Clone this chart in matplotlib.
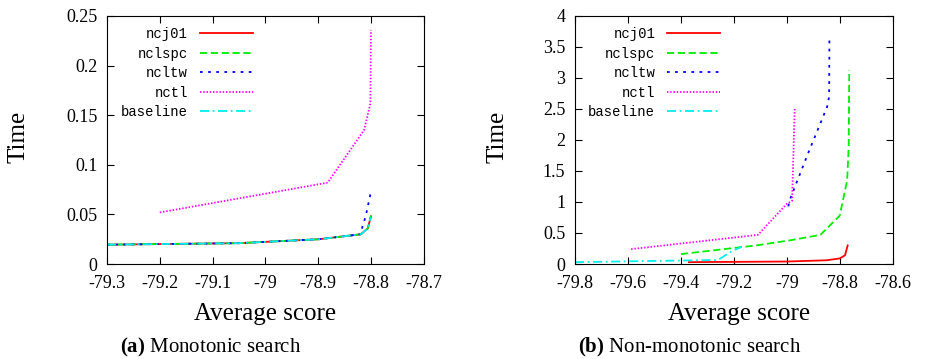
import numpy as np
import matplotlib
matplotlib.use("Agg")
import matplotlib.pyplot as plt
from matplotlib.ticker import FormatStrFormatter

plt.rcParams["mathtext.fontset"] = "custom"
plt.rcParams["mathtext.rm"] = "Liberation Serif"
plt.rcParams["mathtext.bf"] = "Liberation Serif:bold"

# (a) monotonic search
a_ncj01_x = [-79.3, -79.05, -78.898, -78.819, -78.806, -78.8]
a_ncj01_y = [0.0195, 0.021, 0.025, 0.030, 0.036, 0.048]
a_nclspc_x = [-79.3, -79.05, -78.898, -78.819, -78.806, -78.8]
a_nclspc_y = [0.0195, 0.021, 0.025, 0.030, 0.036, 0.049]
a_ncltw_x = [-79.3, -79.05, -78.898, -78.819, -78.816, -78.81, -78.8]
a_ncltw_y = [0.0195, 0.021, 0.025, 0.030, 0.038, 0.048, 0.073]
a_nctl_x = [-79.2, -78.882, -78.813, -78.801, -78.8]
a_nctl_y = [0.052, 0.082, 0.135, 0.162, 0.236]
a_base_x = [-79.3, -79.05, -78.898, -78.819, -78.806, -78.8]
a_base_y = [0.0195, 0.021, 0.025, 0.030, 0.036, 0.047]

# (b) non-monotonic search
b_ncj01_x = [-79.37, -79.0, -78.85, -78.8, -78.78, -78.77]
b_ncj01_y = [0.03, 0.04, 0.06, 0.09, 0.14, 0.30]
b_nclspc_x = [-79.4, -79.115, -78.99, -78.873, -78.8, -78.772, -78.766, -78.764]
b_nclspc_y = [0.16, 0.30, 0.38, 0.47, 0.78, 1.35, 1.9, 3.13]
b_ncltw_x = [-78.994, -78.99, -78.92, -78.848, -78.84, -78.839]
b_ncltw_y = [0.93, 1.02, 1.78, 2.53, 2.70, 3.61]
b_nctl_x = [-79.588, -79.109, -79.0, -78.98, -78.97]
b_nctl_y = [0.24, 0.47, 0.97, 1.02, 2.51]
b_base_x = [-79.8, -79.26, -79.21, -79.17]
b_base_y = [0.03, 0.065, 0.2, 0.28]

names = ["ncj01", "nclspc", "ncltw", "nctl", "baseline"]
colors = ["#ff0000", "#00ee00", "#0000ff", "#ff00ff", "#00eeee"]
styles = ["-", (0, (4, 2)), (0, (1.5, 3)), (0, (0.8, 1)), (0, (5, 2, 1, 2))]

serif = "Liberation Serif"

fig = plt.figure(figsize=(9.26, 3.59), dpi=100)
ax1 = fig.add_axes([0.1156, 0.2646, 0.342, 0.691])
ax2 = fig.add_axes([0.621, 0.2646, 0.343, 0.691])

data_a = [(a_ncj01_x, a_ncj01_y), (a_nclspc_x, a_nclspc_y), (a_ncltw_x, a_ncltw_y),
          (a_nctl_x, a_nctl_y), (a_base_x, a_base_y)]
data_b = [(b_ncj01_x, b_ncj01_y), (b_nclspc_x, b_nclspc_y), (b_ncltw_x, b_ncltw_y),
          (b_nctl_x, b_nctl_y), (b_base_x, b_base_y)]

# legend right end, ylabel right edge, xlabel centre (axes fractions)
layout = [(ax1, data_a, 0.46, -0.246, 0.5), (ax2, data_b, 0.456, -0.208, 0.516)]

for ax, data, leg_x, ylab_x, xlab_x in layout:
    for (x, y), n, c, s in zip(data, names, colors, styles):
        ax.plot(x, y, color=c, linestyle=s, linewidth=1.3, label=n)
    ax.tick_params(direction="in", top=True, right=True, length=5, labelsize=13)
    ax.tick_params(axis="x", pad=8)
    ax.tick_params(axis="y", pad=7)
    ax.xaxis.set_major_formatter(FormatStrFormatter("%g"))
    ax.yaxis.set_major_formatter(FormatStrFormatter("%g"))
    ax.set_xlabel("Average score", fontfamily=serif, fontsize=18)
    ax.set_ylabel("Time", fontfamily=serif, fontsize=18)
    ax.xaxis.set_label_coords(xlab_x, -0.157)
    ax.yaxis.set_label_coords(ylab_x, 0.512)
    ax.legend(loc="upper right", bbox_to_anchor=(leg_x, 0.955), markerfirst=False, frameon=False,
              prop={"family": "Liberation Mono", "size": 10}, handlelength=3.8,
              labelspacing=0.4, handletextpad=0.85, borderaxespad=0, borderpad=0)

ax1.set_xlim(-79.3, -78.7)
ax1.set_ylim(0, 0.25)
ax1.set_xticks(np.arange(-79.3, -78.65, 0.1))
ax1.set_yticks(np.arange(0, 0.26, 0.05))

ax2.set_xlim(-79.8, -78.6)
ax2.set_ylim(0, 4)
ax2.set_xticks(np.arange(-79.8, -78.55, 0.2))
ax2.set_yticks(np.arange(0, 4.1, 0.5))

for ax in (ax1, ax2):
    for lab in ax.get_xticklabels() + ax.get_yticklabels():
        lab.set_fontfamily(serif)

fig.text(211 / 926, 1 - 347 / 359, r"$\mathbf{(a)}$ Monotonic search", ha="center", va="center",
         fontfamily=serif, fontsize=15)
fig.text(690 / 926, 1 - 347 / 359, r"$\mathbf{(b)}$ Non-monotonic search", ha="center", va="center",
         fontfamily=serif, fontsize=15)

fig.savefig("out.png", dpi=100)
